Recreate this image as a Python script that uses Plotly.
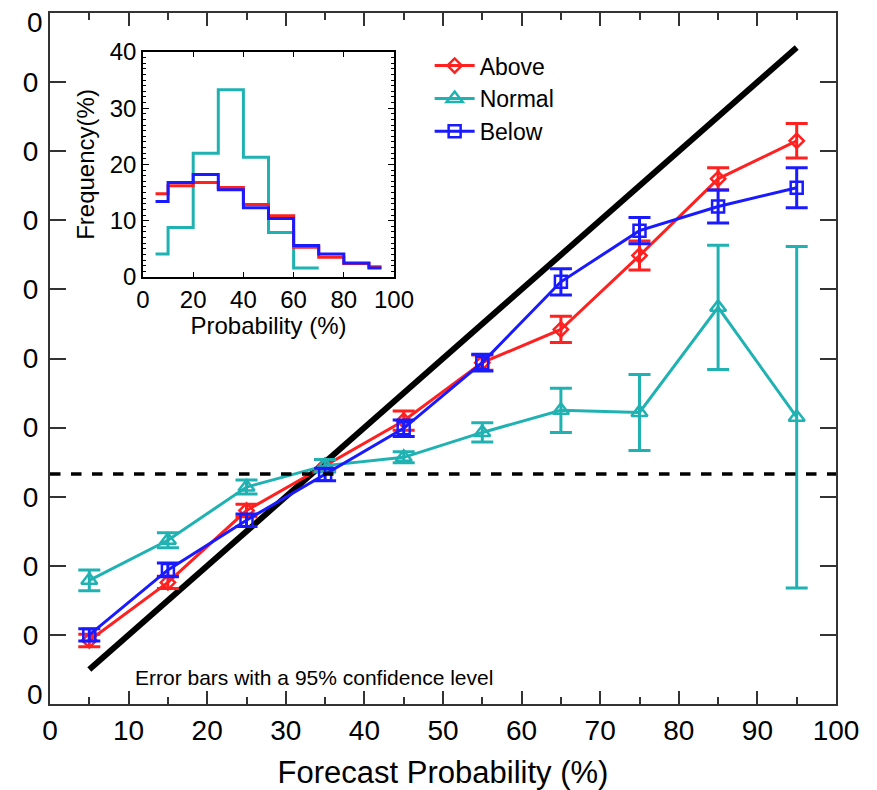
import plotly.graph_objects as go

# ---------------- data ----------------
prob_bins = [5, 15, 25, 35, 45, 55, 65, 75, 85, 95]

above_obs = [9.2, 17.6, 28.0, 34.5, 41.0, 49.4, 54.2, 64.9, 76.0, 81.5]
above_err = [0.9, 0.9, 0.9, 0.9, 1.4, 1.1, 1.9, 2.1, 1.6, 2.5]

normal_obs = [17.9, 23.7, 31.4, 34.5, 35.7, 39.3, 42.5, 42.2, 57.4, 41.5]
normal_err = [1.5, 1.1, 1.0, 0.9, 0.8, 1.4, 3.2, 5.5, 9.0, 24.7]

below_obs = [10.0, 19.4, 26.6, 33.2, 39.9, 49.4, 61.1, 68.5, 72.0, 74.7]
below_err = [0.9, 1.0, 0.9, 0.9, 1.2, 1.2, 1.9, 1.9, 2.4, 2.9]

climatology = 33.3

# inset: frequency of forecasts (%)
hist_bins_above = [5, 15, 25, 35, 45, 55, 65, 75, 85, 95]
hist_above = [14.8, 16.2, 16.8, 15.9, 12.9, 10.9, 5.3, 3.5, 2.4, 1.8]
hist_bins_normal = [5, 15, 25, 35, 45, 55, 65]
hist_normal = [4.1, 8.8, 22.0, 33.3, 21.3, 7.9, 1.6]
hist_bins_below = [5, 15, 25, 35, 45, 55, 65, 75, 85, 95]
hist_below = [13.4, 16.8, 18.2, 15.5, 12.3, 10.4, 5.6, 4.1, 2.5, 1.6]

main_yticks = [0, 10, 20, 30, 40, 50, 60, 70, 80, 90, 100]
main_ytick_text = ["0"] * len(main_yticks)   # only the last digit is visible in the cropped original

RED = "#ff2020"
TEAL = "#20b2b2"
BLUE = "#1a1aff"
FONT = "Liberation Sans, Arial, sans-serif"


def step_xy(centers, vals, lo=5, hi=95, half=5):
    xs, ys = [], []
    for c, v in zip(centers, vals):
        xs.append(max(c - half, lo))
        ys.append(v)
    xs.append(min(centers[-1] + half, hi))
    ys.append(vals[-1])
    return xs, ys


fig = go.Figure()

# perfect reliability diagonal
fig.add_trace(go.Scatter(x=[prob_bins[0], prob_bins[-1]], y=[prob_bins[0], prob_bins[-1]],
                         mode="lines", line=dict(color="black", width=6),
                         showlegend=False, hoverinfo="skip"))

series = [
    ("Above", above_obs, above_err, RED, "diamond-open", 11),
    ("Normal", normal_obs, normal_err, TEAL, "triangle-up-open", 14),
    ("Below", below_obs, below_err, BLUE, "square-open", 12),
]
for name, obs, err, col, sym, sz in series:
    fig.add_trace(go.Scatter(
        x=prob_bins, y=obs, name=name, mode="lines+markers",
        line=dict(color=col, width=3),
        marker=dict(symbol=sym, size=sz, color=col, line=dict(width=2.5, color=col)),
        error_y=dict(type="data", array=err, visible=True, color=col, thickness=3, width=11),
    ))

# inset histograms
for centers, vals, col in [(hist_bins_normal, hist_normal, TEAL),
                           (hist_bins_above, hist_above, RED),
                           (hist_bins_below, hist_below, BLUE)]:
    xs, ys = step_xy(centers, vals)
    fig.add_trace(go.Scatter(x=xs, y=ys, mode="lines", line=dict(color=col, width=3, shape="hv"),
                             xaxis="x2", yaxis="y2", showlegend=False, hoverinfo="skip"))

# climatology dashed line
fig.add_shape(type="line", xref="x", yref="y", x0=0, x1=100, y0=climatology, y1=climatology,
              line=dict(color="black", width=3.5, dash="dash"))

fig.add_annotation(text="Error bars with a 95% confidence level", xref="x", yref="y",
                   x=10.5, y=3.8, xanchor="left", yanchor="middle", showarrow=False,
                   font=dict(family=FONT, size=21, color="black"))

# end tick labels of the y axis are drawn inside the range (as in the original)
tick_text_shown = list(main_ytick_text)
tick_text_shown[0] = ""
tick_text_shown[-1] = ""
fig.add_annotation(text=main_ytick_text[-1], xref="paper", yref="y", x=0, y=main_yticks[-1],
                   xanchor="right", yanchor="top", xshift=-5, yshift=8, showarrow=False,
                   font=dict(family=FONT, size=28, color="black"))
fig.add_annotation(text=main_ytick_text[0], xref="paper", yref="y", x=0, y=main_yticks[0],
                   xanchor="right", yanchor="bottom", xshift=-5, yshift=-8, showarrow=False,
                   font=dict(family=FONT, size=28, color="black"))

# page body has an 8px margin, so the figure is sized/offset to compensate
fig.update_layout(
    width=869, height=782,
    margin=dict(l=42, r=41, t=5, b=86),
    paper_bgcolor="white", plot_bgcolor="white",
    font=dict(family=FONT, color="black"),
    showlegend=True,
    legend=dict(x=0.483, y=0.955, xanchor="left", yanchor="top", bgcolor="rgba(0,0,0,0)",
                font=dict(family=FONT, size=23, color="black"), itemwidth=40,
                tracegroupgap=0),
    xaxis=dict(range=[0, 100], tickvals=list(range(0, 101, 10)), ticks="inside", ticklen=13,
               tickwidth=1.5, tickcolor="#333", showline=True, linecolor="#333", linewidth=2,
               mirror="ticks", showgrid=False, zeroline=False, automargin=False,
               ticklabeloverflow="allow",
               minor=dict(dtick=5, ticks="inside", ticklen=7, tickwidth=1.5, tickcolor="#333"),
               tickfont=dict(size=28), title=dict(text="Forecast Probability (%)",
                                                   font=dict(size=31), standoff=18)),
    yaxis=dict(range=[0, 100], tickvals=main_yticks, ticktext=tick_text_shown, ticks="inside",
               ticklen=16, tickwidth=1.5, tickcolor="#333", showline=True, linecolor="#333",
               linewidth=2, mirror="ticks", showgrid=False, zeroline=False, automargin=False,
               ticklabeloverflow="allow", ticklabelstandoff=4,
               tickfont=dict(size=28)),
    xaxis2=dict(domain=[0.1183, 0.4377], anchor="y2", range=[0, 100], automargin=False,
                tickvals=[0, 20, 40, 60, 80, 100], ticks="inside", ticklen=5, tickcolor="black",
                showline=True, linecolor="black", linewidth=1.5, mirror="ticks",
                showgrid=False, zeroline=False, tickfont=dict(size=24),
                title=dict(text="Probability (%)", font=dict(size=24), standoff=2)),
    yaxis2=dict(domain=[0.618, 0.9436], anchor="x2", range=[0, 40], automargin=False,
                tickvals=[0, 10, 20, 30, 40], ticks="inside", ticklen=6, tickcolor="black",
                showline=True, linecolor="black", linewidth=1.5, mirror="ticks",
                showgrid=False, zeroline=False, tickfont=dict(size=24),
                minor=dict(dtick=1, ticks="inside", ticklen=3, tickcolor="black"),
                title=dict(text="Frequency(%)", font=dict(size=24), standoff=8)),
)

fig.write_html("out.html")
